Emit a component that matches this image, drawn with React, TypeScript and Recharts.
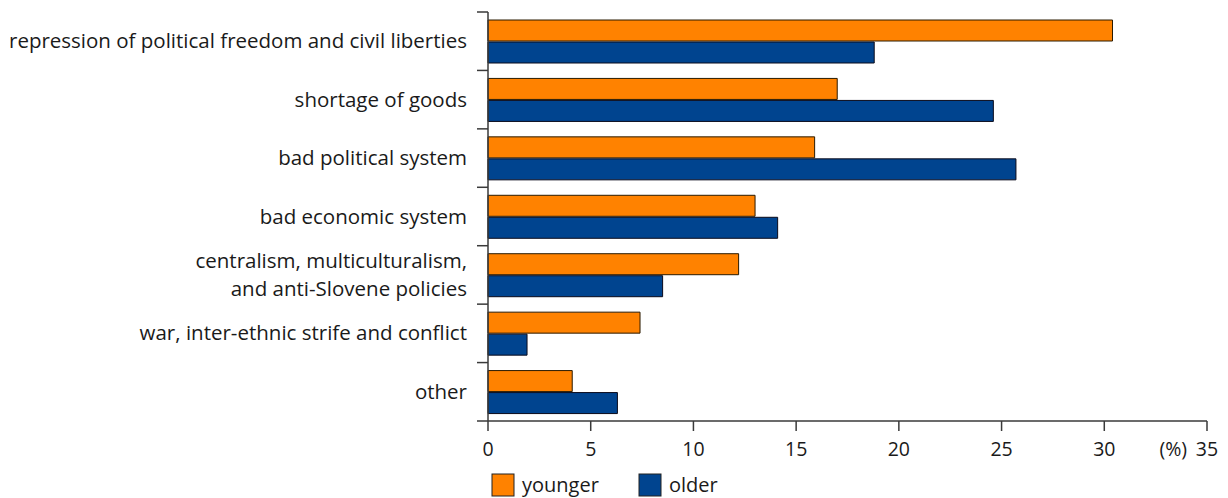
import { BarChart, Bar, XAxis, YAxis, Legend } from "recharts";

const categories = [
  "repression of political freedom and civil liberties",
  "shortage of goods",
  "bad political system",
  "bad economic system",
  "centralism, multiculturalism,\nand anti-Slovene policies",
  "war, inter-ethnic strife and conflict",
  "other",
];
const younger = [30.4, 17.0, 15.9, 13.0, 12.2, 7.4, 4.1];
const older = [18.8, 24.6, 25.7, 14.1, 8.5, 1.9, 6.3];
const xTicks = [0, 5, 10, 15, 20, 25, 30, 35];

const ORANGE = "#ff8200";
const BLUE = "#00448f";
const AXIS = "#3a3a3a";
const TEXT = "#1a1a1a";
const FONT = "'Open Sans', 'Noto Sans', sans-serif";

const W = 1228;
const H = 498;
const TOP = 12;
const AXIS_X = 488;
const PLOT_BOTTOM = 421;
const BAND = (PLOT_BOTTOM - TOP) / categories.length;

const data = categories.map((name, i) => ({ name, younger: younger[i], older: older[i] }));

function YTick(props: any) {
  const { y, payload, index } = props;
  const lines = String(payload.value).split("\n");
  const lh = 28;
  const y0 = y - ((lines.length - 1) * lh) / 2 + 7;
  return (
    <g>
      <line x1={AXIS_X - 11} x2={AXIS_X} y1={y - BAND / 2} y2={y - BAND / 2} stroke={AXIS} strokeWidth={1.5} />
      {index === categories.length - 1 && (
        <line x1={AXIS_X - 11} x2={AXIS_X} y1={y + BAND / 2} y2={y + BAND / 2} stroke={AXIS} strokeWidth={1.5} />
      )}
      {lines.map((l, i) => (
        <text key={i} x={467} y={y0 + i * lh} textAnchor="end" fill={TEXT} fontSize={20.5} fontFamily={FONT}>
          {l}
        </text>
      ))}
    </g>
  );
}

function XTick(props: any) {
  const { x, y, payload } = props;
  return (
    <g>
      <text x={x} y={y + 23} textAnchor="middle" fill={TEXT} fontSize={19.5} fontFamily={FONT}>
        {payload.value}
      </text>
      {payload.value === 35 && (
        <text x={x - 20} y={y + 23} textAnchor="end" fill={TEXT} fontSize={19.5} fontFamily={FONT}>
          (%)
        </text>
      )}
    </g>
  );
}

function LegendBox() {
  const items = [
    { label: "younger", color: ORANGE, x: 0 },
    { label: "older", color: BLUE, x: 147 },
  ];
  return (
    <svg width={260} height={26} style={{ display: "block" }}>
      {items.map((it) => (
        <g key={it.label}>
          <rect x={it.x + 1} y={2} width={22} height={22} fill={it.color} stroke="#222" strokeWidth={1} />
          <text x={it.x + 31} y={20} fill={TEXT} fontSize={20} fontFamily={FONT}>
            {it.label}
          </text>
        </g>
      ))}
    </svg>
  );
}

export default function App() {
  return (
    <div style={{ position: "absolute", left: 0, top: 0, width: W, height: H, background: "#fff" }}>
      <BarChart
        width={W}
        height={H}
        data={data}
        layout="vertical"
        margin={{ top: TOP, right: W - 1207, bottom: 0, left: 0 }}
        barSize={21}
        barGap={1}
      >
        <XAxis
          type="number"
          domain={[0, 35]}
          ticks={xTicks}
          interval={0}
          height={47}
          axisLine={{ stroke: AXIS, strokeWidth: 1.5 }}
          tickLine={{ stroke: AXIS, strokeWidth: 1.5 }}
          tickSize={10}
          tick={<XTick />}
        />
        <YAxis
          type="category"
          dataKey="name"
          width={AXIS_X}
          axisLine={{ stroke: AXIS, strokeWidth: 1.5 }}
          tickLine={false}
          interval={0}
          tick={<YTick />}
        />
        <Legend
          verticalAlign="bottom"
          height={30}
          wrapperStyle={{ left: 491, top: 472, width: 260 }}
          content={() => <LegendBox />}
        />
        <Bar dataKey="younger" fill={ORANGE} stroke="#2a1a00" strokeWidth={1} isAnimationActive={false} />
        <Bar dataKey="older" fill={BLUE} stroke="#0a0a1a" strokeWidth={1} isAnimationActive={false} />
      </BarChart>
    </div>
  );
}
